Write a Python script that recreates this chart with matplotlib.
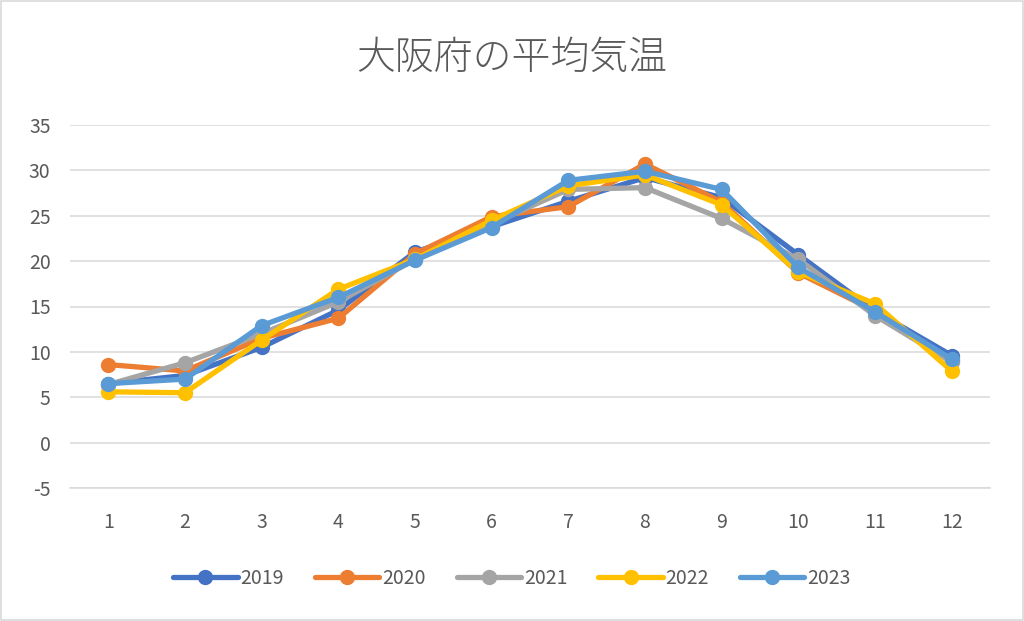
import matplotlib
matplotlib.use("Agg")
import matplotlib.pyplot as plt
from matplotlib.patches import Rectangle

plt.rcParams['font.family'] = ['Noto Sans CJK JP', 'DejaVu Sans']
plt.rcParams['axes.unicode_minus'] = False

months = [1, 2, 3, 4, 5, 6, 7, 8, 9, 10, 11, 12]
t2019 = [6.5, 7.4, 10.5, 14.6, 21.0, 23.8, 26.6, 29.2, 27.0, 20.7, 14.5, 9.6]
t2020 = [8.6, 7.9, 11.5, 13.7, 20.8, 24.9, 26.0, 30.7, 26.5, 18.7, 14.5, 9.0]
t2021 = [6.4, 8.8, 12.0, 15.5, 20.2, 24.1, 27.9, 28.1, 24.7, 20.2, 14.0, 8.9]
t2022 = [5.6, 5.5, 11.3, 16.9, 20.2, 24.5, 28.3, 29.5, 26.2, 18.8, 15.3, 7.9]
t2023 = [6.5, 7.0, 12.9, 16.0, 20.1, 23.7, 28.9, 29.9, 27.9, 19.3, 14.4, 9.2]
series = {"2019": t2019, "2020": t2020, "2021": t2021, "2022": t2022, "2023": t2023}
colors = ["#4472C4", "#ED7D31", "#A5A5A5", "#FFC000", "#5B9BD5"]
yticks = [-5, 0, 5, 10, 15, 20, 25, 30, 35]
title = "大阪府の平均気温"

fig = plt.figure(figsize=(10.24, 6.21), dpi=100)
ax = fig.add_axes([70/1024, 1-488/621, 920/1024, 363/621])

for (name, vals), c in zip(series.items(), colors):
    ax.plot(months, vals, color=c, lw=3.8, marker='o', markersize=10,
            label=name, solid_capstyle='round', solid_joinstyle='round')

ax.set_xlim(0.5, 12.5)
ax.set_ylim(-5, 35)
ax.set_yticks(yticks)
ax.set_xticks(months)
ax.grid(axis='y', color='#D9D9D9', lw=1.1)
ax.set_axisbelow(True)
for s in ['top', 'right', 'left']:
    ax.spines[s].set_visible(False)
ax.spines['bottom'].set_color('#D9D9D9')
ax.spines['bottom'].set_linewidth(1.1)
ax.tick_params(length=0, labelsize=14, colors='#595959')
ax.tick_params(axis='x', pad=17)
ax.tick_params(axis='y', pad=14)

fig.text(0.5, 1-58/621, title, ha='center', va='center', fontsize=28,
         color='#595959', fontweight='light')

leg = fig.legend(loc='center', bbox_to_anchor=(0.5, 1-578/621), ncol=5, frameon=False,
                 fontsize=14, handlelength=3.3, columnspacing=1.6, handletextpad=0.15)
for t in leg.get_texts():
    t.set_color('#595959')

fig.patches.append(Rectangle((0.001, 0.001), 0.998, 0.998, transform=fig.transFigure,
                             fill=False, edgecolor='#D9D9D9', lw=1.2))

fig.savefig("out.png", dpi=100)
